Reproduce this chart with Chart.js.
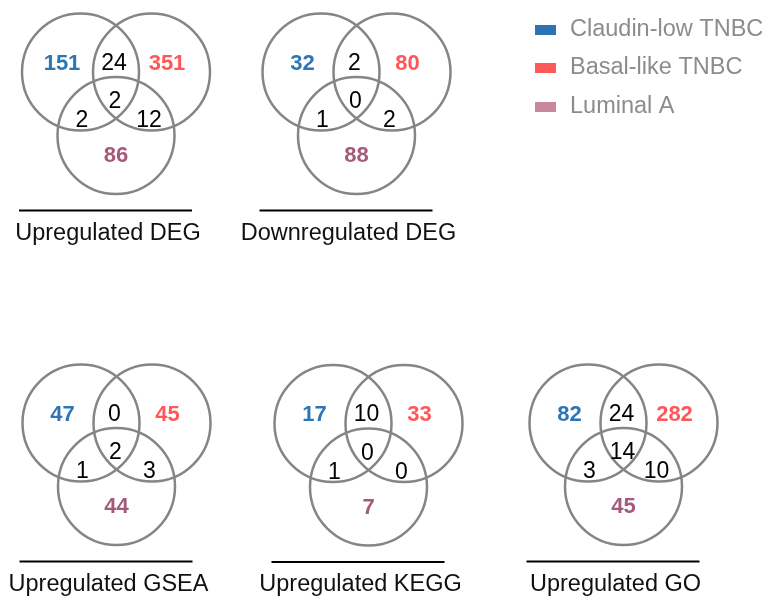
<!DOCTYPE html>
<html>
<head>
<meta charset="utf-8">
<script src="https://cdn.jsdelivr.net/npm/chart.js@4"></script>
<style>
  html, body { margin: 0; padding: 0; background: #ffffff; }
  #wrap { width: 769px; height: 601px; }
</style>
</head>
<body>
<div id="wrap"><canvas id="venn" width="769" height="601"></canvas></div>
<script>
// Overlap counts for the three breast cancer subtypes, one entry per panel
const panelTitles    = ['Upregulated DEG', 'Downregulated DEG', 'Upregulated GSEA', 'Upregulated KEGG', 'Upregulated GO'];
const groupNames     = ['Claudin-low TNBC', 'Basal-like TNBC', 'Luminal A'];
const claudinOnly    = [151, 32, 47, 17, 82];
const basalOnly      = [351, 80, 45, 33, 282];
const luminalOnly    = [86, 88, 44, 7, 45];
const claudinBasal   = [24, 2, 0, 10, 24];
const claudinLuminal = [2, 1, 1, 1, 3];
const basalLuminal   = [12, 2, 3, 0, 10];
const allThree       = [2, 0, 2, 0, 14];

// Panel placement (x of the panel's centre line, y of the two upper circle centres)
const panelX = [116, 356.5, 116.5, 368.5, 623.5];
const panelY = [72, 72, 423, 423.5, 423];

// Geometry and style
const R = 58.5;            // circle radius in px
const HALF_GAP = 35.5;     // horizontal offset of upper circles from the panel centre
const LOWER_DY = 63.5;     // vertical offset of the lower circle
const groupColors = ['#2e74b5', '#ff5a5a', '#c9879e'];
const numberColors = ['#2e75b6', '#ff5757', '#a65a7a'];
const FONT = '"Liberation Sans", Arial, Helvetica, sans-serif';

// Circle centres
const circlePts = [];
panelX.forEach((cx, i) => {
  const cy = panelY[i];
  circlePts.push({x: cx - HALF_GAP, y: cy});
  circlePts.push({x: cx + HALF_GAP, y: cy});
  circlePts.push({x: cx, y: cy + LOWER_DY});
});

// Rule line under each panel title
const ruleSets = panelX.map((cx, i) => ({
  type: 'line',
  data: [{x: cx - 97, y: panelY[i] + 138.5}, {x: cx + 76, y: panelY[i] + 138.5}],
  borderColor: '#000000',
  borderWidth: 2,
  pointRadius: 0,
  showLine: true,
  fill: false
}));

// Region labels: [values, dx, dy, colour index or -1 for black, bold]
const regions = [
  [claudinOnly,    -54, -8.5, 0, true],
  [claudinBasal,    -2, -8.5, -1, false],
  [basalOnly,       51, -8.5, 1, true],
  [allThree,        -1, 30,  -1, false],
  [claudinLuminal, -34, 49,  -1, false],
  [basalLuminal,    33, 49,  -1, false],
  [luminalOnly,      0, 84,   2, true]
];

const textPlugin = {
  id: 'vennText',
  afterDatasetsDraw(chart) {
    const ctx = chart.ctx;
    const xs = chart.scales.x, ys = chart.scales.y;
    ctx.save();
    ctx.textAlign = 'center';
    ctx.textBaseline = 'middle';
    panelX.forEach((cx, i) => {
      const cy = panelY[i];
      regions.forEach(([vals, dx, dy, ci, bold]) => {
        ctx.font = bold ? 'bold 22px ' + FONT : '23px ' + FONT;
        ctx.fillStyle = ci < 0 ? '#000000' : numberColors[ci];
        ctx.fillText(String(vals[i]), xs.getPixelForValue(cx + dx), ys.getPixelForValue(cy + dy));
      });
      ctx.font = '23.5px ' + FONT;
      ctx.fillStyle = '#111111';
      ctx.fillText(panelTitles[i], xs.getPixelForValue(cx - 8), ys.getPixelForValue(cy + 161.5));
    });
    // Legend
    const legendY = [30, 68, 107];
    groupNames.forEach((name, k) => {
      ctx.fillStyle = groupColors[k];
      ctx.fillRect(xs.getPixelForValue(535), ys.getPixelForValue(legendY[k]) - 5, 21, 10);
      ctx.font = '23.5px ' + FONT;
      ctx.fillStyle = '#8c8c8c';
      ctx.textAlign = 'left';
      ctx.fillText(name, xs.getPixelForValue(570), ys.getPixelForValue(legendY[k]));
    });
    ctx.restore();
  }
};

new Chart(document.getElementById('venn'), {
  type: 'scatter',
  data: {
    datasets: [
      {
        data: circlePts,
        pointStyle: 'circle',
        pointRadius: R,
        pointBorderWidth: 2.5,
        pointBorderColor: '#858585',
        pointBackgroundColor: 'rgba(0,0,0,0)',
        showLine: false,
        clip: false
      },
      ...ruleSets
    ]
  },
  options: {
    responsive: false,
    animation: false,
    devicePixelRatio: 1,
    events: [],
    layout: { padding: 0, autoPadding: false },
    plugins: { legend: { display: false }, tooltip: { enabled: false } },
    scales: {
      x: { type: 'linear', min: 0, max: 769, display: false },
      y: { type: 'linear', min: 0, max: 601, reverse: true, display: false }
    }
  },
  plugins: [textPlugin]
});
</script>
</body>
</html>
